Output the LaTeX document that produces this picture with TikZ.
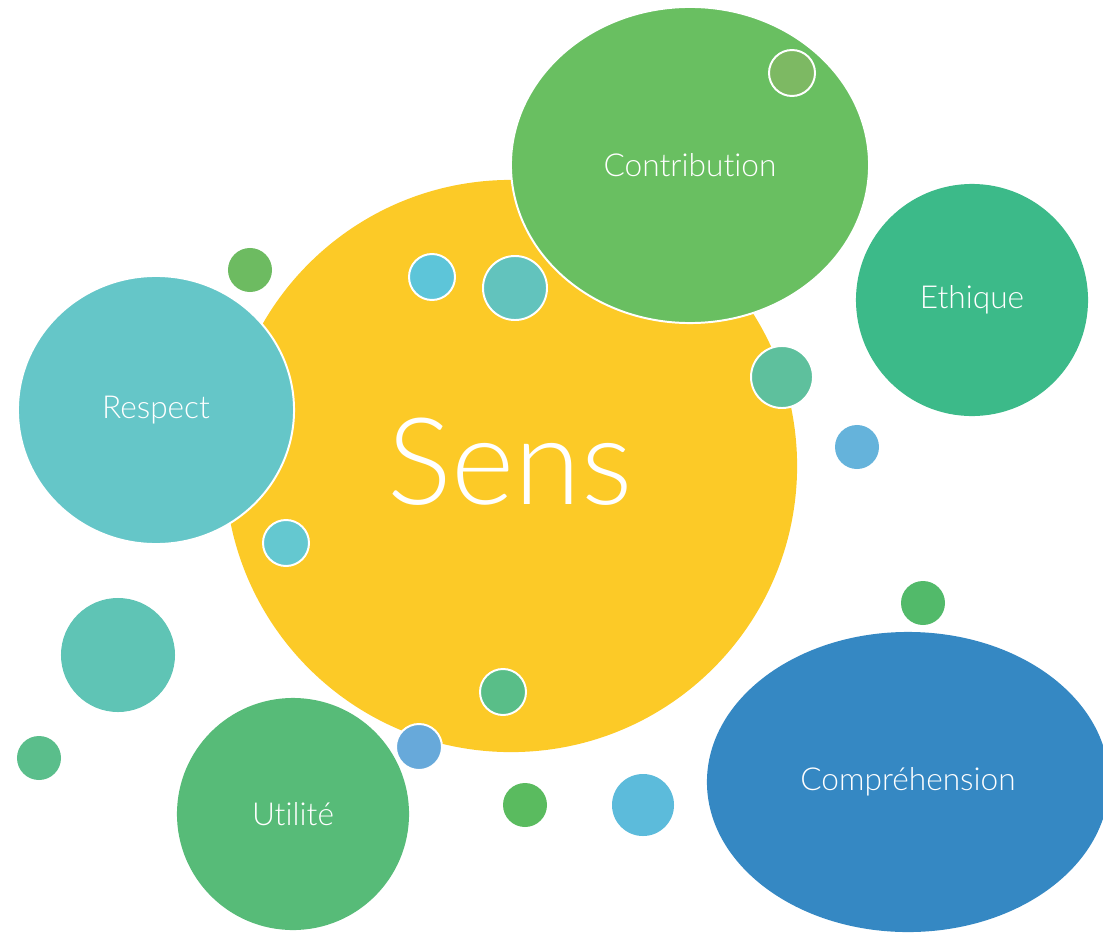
\documentclass[tikz,border=0pt]{standalone}
\usepackage{fontspec}
\setmainfont{Lato}[UprightFont={* Light}, Ligatures=NoCommon]
\usepackage{xcolor}
\usetikzlibrary{shapes.geometric}
\definecolor{sensyellow}{HTML}{FCCA27}
\definecolor{contribgreen}{HTML}{69BF61}
\definecolor{olivegreen}{HTML}{7DB963}
\definecolor{ethiquegreen}{HTML}{3CBA89}
\definecolor{respectteal}{HTML}{65C6C8}
\definecolor{compblue}{HTML}{3588C3}
\definecolor{utilgreen}{HTML}{57BB78}
\definecolor{leafgreen}{HTML}{6DBB61}
\definecolor{skycyan}{HTML}{5DC5D9}
\definecolor{softteal}{HTML}{62C3BD}
\definecolor{mintgreen}{HTML}{5EC09D}
\definecolor{lightblue}{HTML}{65B3DB}
\definecolor{palecyan}{HTML}{64C8D0}
\definecolor{seateal}{HTML}{5FC4B5}
\definecolor{jadegreen}{HTML}{5ABE8B}
\definecolor{grassgreen}{HTML}{5ABB5F}
\definecolor{midblue}{HTML}{67A9DA}
\definecolor{brightcyan}{HTML}{5CBBDB}
\definecolor{fieldgreen}{HTML}{52BA6A}
\definecolor{springgreen}{HTML}{59BE88}
\tikzset{
  bubble/.style={circle, inner sep=0pt, minimum size=#1*0.05cm, text=white},
  oval/.style 2 args={ellipse, inner sep=0pt, minimum width=#1*0.05cm, minimum height=#2*0.05cm, text=white},
  rim/.style={draw=white, line width=1.4pt},
  label font/.style={font=\fontsize{22.5}{26}\selectfont}
}
\begin{document}
\begin{tikzpicture}[x=0.025cm, y=-0.025cm]
  \useasboundingbox (0, 0) rectangle (1103, 933);
  \node[bubble=286, fill=sensyellow] (sens) at (511, 466) {};
  \node[text=white, font=\fontsize{86}{94}\selectfont] (senslabel) at (510, 462) {Sens};
  \node[oval={138}{134}, fill=respectteal, rim, label font] (respect) at (156, 410) {Respect};
  \node[oval={179}{158}, fill=contribgreen, rim, label font] (contribution) at (690, 165) {Contribution};
  \node[bubble=116, fill=ethiquegreen, label font] (ethique) at (972, 300) {Ethique};
  \node[oval={201}{150}, fill=compblue, label font] (comprehension) at (908, 782) {Compréhension};
  \node[bubble=116, fill=utilgreen, label font] (utilite) at (293, 814) {Utilité};
  \node[bubble=23, fill=olivegreen, rim] (olive) at (792, 73) {};
  \node[bubble=22, fill=leafgreen] (leaf) at (250, 270) {};
  \node[bubble=23, fill=skycyan, rim] (sky) at (432, 277) {};
  \node[bubble=32, fill=softteal, rim] (soft) at (515, 288) {};
  \node[bubble=31, fill=mintgreen, rim] (mint) at (782, 377) {};
  \node[bubble=22, fill=lightblue] (light) at (857, 447) {};
  \node[bubble=23, fill=palecyan, rim] (pale) at (286, 543) {};
  \node[bubble=57, fill=seateal] (sea) at (118, 655) {};
  \node[bubble=22, fill=jadegreen] (jade) at (39, 758) {};
  \node[bubble=23, fill=springgreen, rim] (spring) at (503, 692) {};
  \node[bubble=23, fill=midblue, rim] (mid) at (419, 747) {};
  \node[bubble=22, fill=grassgreen] (grass) at (525, 805) {};
  \node[bubble=31, fill=brightcyan] (bright) at (643, 805) {};
  \node[bubble=22, fill=fieldgreen] (field) at (923, 603) {};
\end{tikzpicture}
\end{document}
